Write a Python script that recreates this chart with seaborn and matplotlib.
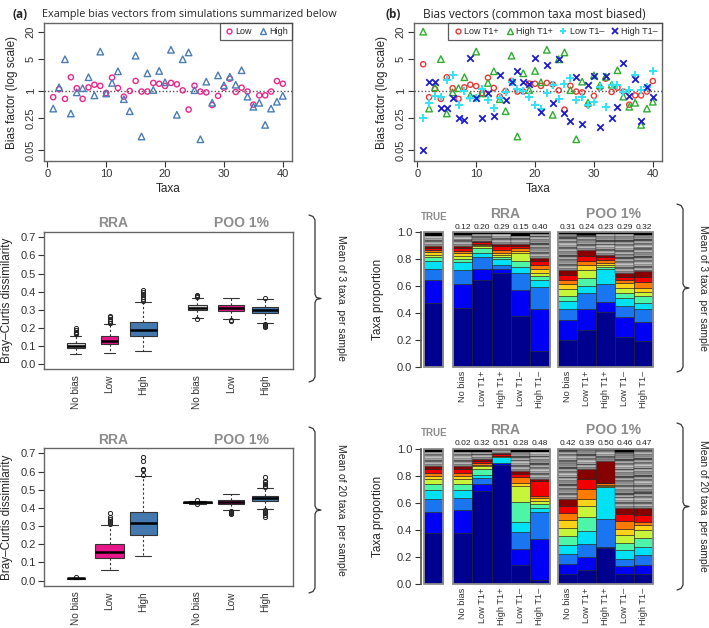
import numpy as np
import pandas as pd
import matplotlib
matplotlib.use("Agg")
import matplotlib.pyplot as plt
import seaborn as sns
from matplotlib.lines import Line2D
from matplotlib.patches import Rectangle

# ------------------------------------------------------------------ data
taxa = list(range(1, 41))

# panel (a)
bias_low = [0.73, 1.09, 0.67, 2.0, 1.15, 0.67, 1.2, 1.37, 1.29, 0.9,
            1.96, 1.16, 0.75, 1.0, 1.66, 0.97, 0.97, 1.5, 1.44, 1.29,
            1.5, 1.4, 1.03, 0.39, 1.3, 0.97, 0.93, 0.49, 0.78, 1.18,
            1.86, 0.95, 1.18, 0.97, 0.5, 0.8, 0.8, 0.97, 1.65, 1.44]
bias_high = [0.41, 1.2, 4.96, 0.32, 0.93, 1.15, 2.0, 0.8, 7.3, 0.88,
             1.5, 2.7, 0.66, 0.36, 5.95, 0.1, 2.44, 1.05, 2.75, 1.55,
             8.0, 0.30, 4.96, 7.0, 1.04, 0.087, 1.6, 0.55, 2.2, 1.33,
             2.05, 1.37, 2.85, 0.75, 0.45, 0.55, 0.18, 0.41, 0.58, 0.78]

# panel (b)
bias_low_t1p = [3.85, 0.73, 1.1, 0.67, 2.0, 1.15, 0.67, 1.2, 1.37, 1.28,
                0.9, 1.95, 1.16, 0.75, 1.0, 1.66, 0.97, 0.97, 1.45, 1.44,
                1.29, 1.5, 1.4, 1.03, 0.39, 1.3, 0.97, 0.93, 0.5, 0.78,
                1.18, 1.86, 0.95, 1.18, 0.97, 0.5, 0.8, 0.8, 0.97, 1.65]
bias_high_t1p = [20.0, 0.41, 1.2, 5.0, 0.32, 0.93, 1.15, 2.0, 0.8, 7.3,
                 0.88, 1.5, 2.7, 0.66, 0.36, 5.95, 0.1, 2.44, 1.05, 2.75,
                 1.55, 8.0, 0.30, 4.96, 7.0, 1.04, 0.087, 1.6, 0.55, 2.2,
                 1.33, 2.05, 1.37, 2.85, 0.75, 0.45, 0.55, 0.18, 0.41, 0.58]
bias_low_t1m = [0.25, 0.54, 0.79, 0.74, 1.74, 2.2, 0.49, 1.0, 0.7, 0.71,
                1.1, 0.63, 0.43, 0.7, 0.94, 1.6, 1.1, 1.0, 0.74, 0.5,
                0.41, 0.92, 1.37, 0.66, 1.39, 1.9, 0.63, 0.74, 0.5, 0.56,
                1.2, 0.44, 1.33, 1.37, 0.97, 1.07, 2.2, 1.07, 1.22, 2.7]
bias_high_t1m = [0.05, 1.6, 1.6, 0.42, 0.43, 0.71, 0.26, 0.23, 5.4, 0.71,
                 0.25, 0.92, 0.28, 2.2, 0.62, 1.55, 2.7, 1.55, 1.44, 5.2,
                 0.35, 3.7, 0.54, 5.0, 0.32, 0.22, 2.0, 0.19, 1.35, 2.1,
                 0.16, 2.1, 0.26, 0.45, 4.2, 0.78, 1.8, 0.22, 1.22, 0.73]

# boxplots
box_labels = ["No bias", "Low", "High", "No bias", "Low", "High"]
# mean of 3 taxa per sample
bc3_med = [0.101, 0.129, 0.190, 0.310, 0.310, 0.300]
bc3_q1 = [0.090, 0.110, 0.155, 0.298, 0.293, 0.282]
bc3_q3 = [0.118, 0.155, 0.235, 0.325, 0.325, 0.318]
bc3_lo = [0.059, 0.060, 0.075, 0.255, 0.250, 0.228]
bc3_hi = [0.157, 0.220, 0.345, 0.368, 0.368, 0.360]
bc3_fliers = [[0.165, 0.17, 0.175, 0.18, 0.19, 0.20],
              [0.225, 0.23, 0.24, 0.25, 0.26, 0.265],
              [0.35, 0.36, 0.37, 0.38, 0.39, 0.40, 0.41],
              [0.25, 0.372, 0.376, 0.38],
              [0.24, 0.245],
              [0.205, 0.21, 0.215, 0.22, 0.365]]
# mean of 20 taxa per sample
bc20_med = [0.012, 0.160, 0.315, 0.431, 0.432, 0.452]
bc20_q1 = [0.010, 0.125, 0.250, 0.428, 0.420, 0.437]
bc20_q3 = [0.014, 0.200, 0.380, 0.434, 0.445, 0.466]
bc20_lo = [0.007, 0.060, 0.135, 0.422, 0.390, 0.395]
bc20_hi = [0.017, 0.305, 0.575, 0.440, 0.475, 0.510]
bc20_fliers = [[0.02],
               [0.31, 0.32, 0.33, 0.34, 0.35, 0.37],
               [0.58, 0.61, 0.615, 0.66, 0.68],
               [0.42, 0.445],
               [0.365, 0.37, 0.375, 0.38, 0.385],
               [0.35, 0.36, 0.37, 0.38, 0.39, 0.515, 0.52, 0.53, 0.54, 0.55, 0.57]]

# stacked bars (bottom -> top: 10 coloured taxa, then grey taxa, black top)
bar_labels = ["No bias", "Low T1+", "High T1+", "Low T1\u2013", "High T1\u2013"]
# order: TRUE, RRA x5, POO x5
mix3_colored = [
    [0.48, 0.165, 0.085, 0.055, 0.03, 0.02, 0.02, 0.015, 0.015, 0.015],
    [0.44, 0.175, 0.105, 0.06, 0.025, 0.02, 0.02, 0.02, 0.02, 0.015],
    [0.645, 0.085, 0.09, 0.03, 0.035, 0.01, 0.01, 0.01, 0.01, 0.01],
    [0.695, 0.03, 0.035, 0.04, 0.02, 0.01, 0.015, 0.025, 0.03, 0.015],
    [0.38, 0.195, 0.12, 0.05, 0.045, 0.06, 0.015, 0.02, 0.015, 0.015],
    [0.12, 0.31, 0.165, 0.05, 0.03, 0.025, 0.025, 0.03, 0.03, 0.025],
    [0.205, 0.145, 0.08, 0.06, 0.04, 0.05, 0.04, 0.03, 0.035, 0.035],
    [0.275, 0.155, 0.12, 0.055, 0.055, 0.06, 0.035, 0.035, 0.035, 0.045],
    [0.41, 0.075, 0.13, 0.11, 0.015, 0.015, 0.02, 0.02, 0.02, 0.02],
    [0.225, 0.145, 0.085, 0.06, 0.035, 0.035, 0.04, 0.02, 0.025, 0.03],
    [0.195, 0.14, 0.095, 0.05, 0.045, 0.035, 0.025, 0.05, 0.035, 0.04],
]
mix3_black = [0.03, 0.02, 0.015, 0.015, 0.025, 0.01, 0.01, 0.02, 0.015, 0.015, 0.02]
mix3_bc = ["0.12", "0.20", "0.29", "0.15", "0.40", "0.31", "0.24", "0.23", "0.29", "0.32"]

mix20_colored = [
    [0.375, 0.16, 0.095, 0.065, 0.045, 0.035, 0.025, 0.025, 0.025, 0.025],
    [0.38, 0.165, 0.09, 0.065, 0.04, 0.035, 0.025, 0.025, 0.025, 0.025],
    [0.69, 0.05, 0.045, 0.02, 0.05, 0.02, 0.01, 0.01, 0.015, 0.015],
    [0.885, 0.015, 0.0, 0.04, 0.0, 0.0, 0.005, 0.005, 0.01, 0.01],
    [0.14, 0.12, 0.125, 0.075, 0.145, 0.12, 0.02, 0.045, 0.025, 0.02],
    [0.03, 0.305, 0.195, 0.035, 0.025, 0.025, 0.02, 0.015, 0.115, 0.015],
    [0.075, 0.075, 0.07, 0.07, 0.065, 0.06, 0.06, 0.05, 0.05, 0.055],
    [0.105, 0.095, 0.1, 0.095, 0.1, 0.085, 0.05, 0.075, 0.075, 0.07],
    [0.27, 0.005, 0.205, 0.235, 0.005, 0.005, 0.005, 0.015, 0.005, 0.16],
    [0.074, 0.056, 0.055, 0.065, 0.055, 0.055, 0.05, 0.06, 0.05, 0.045],
    [0.074, 0.066, 0.075, 0.06, 0.065, 0.06, 0.04, 0.02, 0.05, 0.055],
]
mix20_black = [0.025, 0.025, 0.02, 0.01, 0.02, 0.02, 0.01, 0.01, 0.01, 0.02, 0.01]
mix20_bc = ["0.02", "0.32", "0.51", "0.28", "0.48", "0.42", "0.39", "0.50", "0.46", "0.47"]

# ------------------------------------------------------------------ style
sns.set_theme(style="ticks")
plt.rcParams['font.family'] = ['Liberation Sans', 'DejaVu Sans']
plt.rcParams['axes.edgecolor'] = '#555555'
plt.rcParams['xtick.color'] = '#333333'
plt.rcParams['ytick.color'] = '#333333'

PINK = '#E8288A'
BLUE = '#4A7DB5'
RED = '#E53935'
GREEN = '#2EAD2E'
CYAN = '#33E3F5'
DBLUE = '#1F1FCC'
BOX_COLORS = ['#D9D9D9', '#E8168A', '#4479B0'] * 2
SEG_COLORS = ['#00008F', '#0000F5', '#1A75F0', '#00E1F5', '#4DF5A8',
              '#C6F53A', '#FFD21A', '#FF7A00', '#F00000', '#870000']
GRAY_CYCLE = ['#9e9e9e', '#d4d4d4', '#6e6e6e', '#bdbdbd', '#e3e3e3',
              '#888888', '#c8c8c8', '#555555', '#b0b0b0']
GREY_TXT = '#8c8c8c'
TITLE_FONT = ['Open Sans', 'DejaVu Sans']

W, H = 709, 628
fig = plt.figure(figsize=(W / 100, H / 100), dpi=100)


def add_ax(l, t, r, b):
    return fig.add_axes([l / W, 1 - b / H, (r - l) / W, (b - t) / H])


def ftext(x, y, s, **kw):
    fig.text(x / W, 1 - y / H, s, **kw)


def bracket(x, yt, yb, tip):
    ym = (yt + yb) / 2
    pts = [(x - 6, yt), (x - 2, yt + 1.5), (x, yt + 5), (x, ym - 4), (x + 1.5, ym - 1),
           (x + tip, ym), (x + 1.5, ym + 1), (x, ym + 4), (x, yb - 5), (x - 2, yb - 1.5),
           (x - 6, yb)]
    fig.add_artist(Line2D([p[0] / W for p in pts], [1 - p[1] / H for p in pts],
                          color='#333333', lw=0.9))


# ------------------------------------------------------------------ scatter panels
def scatter_panel(ax, series):
    for vals, mk, col, s, lw, hollow in series:
        df = pd.DataFrame({'taxon': taxa, 'bias': vals})
        sns.scatterplot(data=df, x='taxon', y='bias', marker=mk, color=col, s=s,
                        ax=ax, legend=False)
        coll = ax.collections[-1]
        coll.set_facecolor('none' if hollow else col)
        coll.set_edgecolor(col)
        coll.set_linewidth(lw)
    ax.set_yscale('log')
    ax.set_ylim(0.029, 31)
    ax.set_xlim(-0.56, 41.56)
    ax.axhline(1, color='#555555', ls=(0, (1, 1.5)), lw=1, zorder=0)
    ax.set_yticks([0.05, 0.25, 1, 5, 20])
    ax.set_yticklabels(['0.05', '0.25', '1', '5', '20'])
    ax.yaxis.set_minor_locator(matplotlib.ticker.NullLocator())
    ax.set_xticks([0, 10, 20, 30, 40])
    ax.tick_params(axis='both', labelsize=8, length=4, width=0.8, pad=2)
    for lab in ax.get_yticklabels():
        lab.set_rotation(90)
        lab.set_va('center')
    ax.set_xlabel('Taxa', fontsize=8.5)
    ax.set_ylabel('Bias factor (log scale)', fontsize=8.5)
    ax.xaxis.set_label_coords(0.5, -0.16)
    ax.yaxis.set_label_coords(-0.105, 0.5)
    for sp in ax.spines.values():
        sp.set_color('#666666')
        sp.set_linewidth(1)


axa = add_ax(44, 23, 292, 161)
scatter_panel(axa, [(bias_low, 'o', PINK, 14, 1.0, True),
                    (bias_high, '^', BLUE, 22, 1.0, True)])
ha = [Line2D([], [], marker='o', ls='none', mfc='none', mec=PINK, ms=3.5, mew=1),
      Line2D([], [], marker='^', ls='none', mfc='none', mec=BLUE, ms=4.5, mew=1)]
leg = axa.legend(ha, ['Low', 'High'], loc='upper right', ncol=2, fontsize=6.5,
                 frameon=True, fancybox=False, borderaxespad=0, handletextpad=0.1,
                 columnspacing=0.6, borderpad=0.45, handlelength=1.2)
leg.get_frame().set_edgecolor('#333333')
leg.get_frame().set_linewidth(0.9)

axb = add_ax(414, 23, 662, 161)
scatter_panel(axb, [(bias_low_t1p, 'o', RED, 14, 1.0, True),
                    (bias_high_t1p, '^', GREEN, 22, 1.0, True),
                    (bias_low_t1m, '+', CYAN, 38, 1.4, False),
                    (bias_high_t1m, 'x', DBLUE, 22, 1.3, False)])
hb = [Line2D([], [], marker='o', ls='none', mfc='none', mec=RED, ms=3.5, mew=1),
      Line2D([], [], marker='^', ls='none', mfc='none', mec=GREEN, ms=4.5, mew=1),
      Line2D([], [], marker='+', ls='none', mec=CYAN, ms=5, mew=1.4),
      Line2D([], [], marker='x', ls='none', mec=DBLUE, ms=4, mew=1.3)]
leg = axb.legend(hb, ['Low T1+', 'High T1+', 'Low T1\u2013', 'High T1\u2013'],
                 loc='upper right', ncol=4, fontsize=6.5, frameon=True, fancybox=False,
                 borderaxespad=0, handletextpad=0.1, columnspacing=0.6, borderpad=0.45,
                 handlelength=1.2)
leg.get_frame().set_edgecolor('#333333')
leg.get_frame().set_linewidth(0.9)

ftext(12, 15, '(a)', fontsize=8.5, fontweight='bold', va='center', ha='left',
      family=TITLE_FONT)
ftext(42, 15, 'Example bias vectors from simulations summarized below', fontsize=7.8,
      va='center', ha='left', family=TITLE_FONT)
ftext(385, 15, '(b)', fontsize=8.5, fontweight='bold', va='center', ha='left',
      family=TITLE_FONT)
ftext(423, 15, 'Bias vectors (common taxa most biased)', fontsize=8.6,
      va='center', ha='left', family=TITLE_FONT)

# ------------------------------------------------------------------ boxplots
BOX_POS = [1, 2, 3, 4.6, 5.6, 6.6]


def box_panel(ax, med, q1, q3, lo, hi, fl, widths):
    stats = [dict(med=m, q1=a, q3=b, whislo=l, whishi=h, fliers=f)
             for m, a, b, l, h, f in zip(med, q1, q3, lo, hi, fl)]
    bp = ax.bxp(stats, positions=BOX_POS, widths=widths, patch_artist=True,
                showfliers=True, capwidths=[w * 0.6 for w in widths],
                boxprops=dict(edgecolor='#333333', linewidth=0.8),
                medianprops=dict(color='black', linewidth=1.8),
                whiskerprops=dict(color='#333333', linestyle=(0, (2, 2)), linewidth=0.8),
                capprops=dict(color='#333333', linewidth=0.8),
                flierprops=dict(marker='o', mfc='none', mec='#222222', ms=3, mew=0.7))
    for patch, c in zip(bp['boxes'], BOX_COLORS):
        patch.set_facecolor(c)
    ax.set_xlim(0.07, 7.44)
    ax.set_ylim(-0.028, 0.728)
    ax.set_yticks(np.arange(0, 0.71, 0.1))
    ax.set_yticklabels([f'{v:.1f}' for v in np.arange(0, 0.71, 0.1)])
    ax.set_xticks(BOX_POS)
    ax.set_xticklabels(box_labels)
    ax.tick_params(axis='y', labelsize=8, length=4, width=0.8, pad=2)
    ax.tick_params(axis='x', labelsize=7.2, length=0, pad=4, labelrotation=90)
    ax.set_ylabel('Bray\u2013Curtis dissimilarity', fontsize=8.5)
    ax.yaxis.set_label_coords(-0.125, 0.5)
    for sp in ax.spines.values():
        sp.set_color('#666666')
        sp.set_linewidth(1)


ax_b3 = add_ax(44.3, 232.3, 293.3, 369.3)
box_panel(ax_b3, bc3_med, bc3_q1, bc3_q3, bc3_lo, bc3_hi, bc3_fliers,
          [0.54, 0.51, 0.79, 0.57, 0.77, 0.77])
ax_b20 = add_ax(44.3, 448.3, 293.3, 585.7)
box_panel(ax_b20, bc20_med, bc20_q1, bc20_q3, bc20_lo, bc20_hi, bc20_fliers,
          [0.54, 0.86, 0.79, 0.87, 0.77, 0.77])

for ytxt in (223, 440):
    ftext(113, ytxt, 'RRA', fontsize=10, fontweight='bold', color=GREY_TXT,
          ha='center', va='center')
    ftext(241, ytxt, 'POO 1%', fontsize=10, fontweight='bold', color=GREY_TXT,
          ha='center', va='center')

# ------------------------------------------------------------------ stacked bars
BAR_X = [0, 1.5, 2.5, 3.5, 4.5, 5.5, 6.94, 7.92, 8.9, 9.88, 10.86]
BAR_W = [0.985] + [1.0] * 5 + [0.978] * 5


def draw_stack(ax, x, w, colored, black):
    bottom = 0.0
    for v, c in zip(colored, SEG_COLORS):
        if v > 0:
            ax.bar(x, v, w, bottom=bottom, color=c, edgecolor='#1a1a1a', linewidth=0.4)
        bottom += v
    gray = 1.0 - sum(colored) - black
    n = max(1, int(round(gray / 0.014)))
    h = gray / n
    for k in range(n):
        ax.bar(x, h, w, bottom=bottom, color=GRAY_CYCLE[k % len(GRAY_CYCLE)],
               edgecolor='#2a2a2a', linewidth=0.25)
        bottom += h
    ax.bar(x, black, w, bottom=bottom, color='black', edgecolor='black', linewidth=0.3)


def bar_panel(ax, colored, black, bc):
    for x, w, col, blk in zip(BAR_X, BAR_W, colored, black):
        draw_stack(ax, x, w, col, blk)
    groups = [(BAR_X[0] - BAR_W[0] / 2, BAR_X[0] + BAR_W[0] / 2),
              (BAR_X[1] - 0.5, BAR_X[5] + 0.5),
              (BAR_X[6] - BAR_W[6] / 2, BAR_X[10] + BAR_W[10] / 2)]
    for l, r in groups:
        ax.add_patch(Rectangle((l, 0), r - l, 1, fill=False, edgecolor='#8c8c8c',
                               linewidth=1.3, clip_on=False, zorder=5))
    for x, s in zip(BAR_X[1:], bc):
        ax.text(x, 1.012, s, ha='center', va='bottom', fontsize=6, color='#222222')
    ax.set_xlim(-0.68, 11.55)
    ax.set_ylim(0, 1)
    for side in ('top', 'right', 'bottom'):
        ax.spines[side].set_visible(False)
    ax.spines['left'].set_bounds(0, 1)
    ax.spines['left'].set_color('#555555')
    ax.set_yticks(np.arange(0, 1.01, 0.2))
    ax.set_yticklabels([f'{v:.1f}' for v in np.arange(0, 1.01, 0.2)])
    ax.set_xticks(BAR_X[1:])
    ax.set_xticklabels(bar_labels * 2)
    ax.tick_params(axis='y', labelsize=8, length=4, width=0.8, pad=2)
    ax.tick_params(axis='x', labelsize=6.6, length=0, pad=2.5, labelrotation=90)
    ax.set_ylabel('Taxa proportion', fontsize=8.5)
    ax.yaxis.set_label_coords(-0.155, 0.5)


ax_m3 = add_ax(420.7, 232.3, 656.7, 367.3)
bar_panel(ax_m3, mix3_colored, mix3_black, mix3_bc)
ax_m20 = add_ax(420.7, 449, 656.7, 584)
bar_panel(ax_m20, mix20_colored, mix20_black, mix20_bc)

for yt, yg in ((216.7, 214), (433.3, 430)):
    ftext(433.8, yt, 'TRUE', fontsize=7, fontweight='bold', color=GREY_TXT,
          ha='center', va='center')
    ftext(505, yg, 'RRA', fontsize=10, fontweight='bold', color=GREY_TXT,
          ha='center', va='center')
    ftext(613, yg, 'POO 1%', fontsize=10, fontweight='bold', color=GREY_TXT,
          ha='center', va='center')

# ------------------------------------------------------------------ brackets
bracket(315, 215, 382, 6)
bracket(315, 427, 593, 6)
bracket(683, 204, 372, 6)
bracket(683, 423, 590, 6)
ftext(341, 298, 'Mean of 3 taxa  per sample', fontsize=7.5, rotation=-90,
      ha='center', va='center')
ftext(341, 510, 'Mean of 20 taxa  per sample', fontsize=7.5, rotation=-90,
      ha='center', va='center')
ftext(703, 288, 'Mean of 3 taxa  per sample', fontsize=7.5, rotation=-90,
      ha='center', va='center')
ftext(703, 506, 'Mean of 20 taxa  per sample', fontsize=7.5, rotation=-90,
      ha='center', va='center')

fig.savefig('out.png', dpi=100, facecolor='white')
